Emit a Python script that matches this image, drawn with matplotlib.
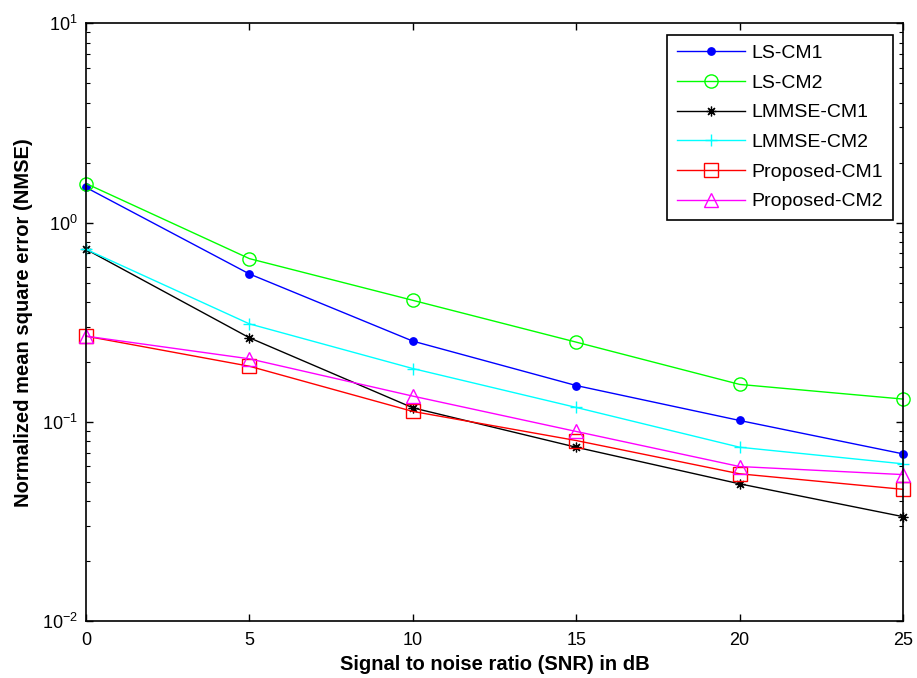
import matplotlib
matplotlib.use("Agg")
import matplotlib.pyplot as plt
from matplotlib.ticker import LogLocator, NullFormatter

plt.rcParams['font.family'] = ['Liberation Sans', 'DejaVu Sans']

snr_db = [0, 5, 10, 15, 20, 25]
ls_cm1 = [1.50, 0.552, 0.254, 0.152, 0.1015, 0.069]
ls_cm2 = [1.57, 0.659, 0.407, 0.251, 0.154, 0.130]
lmmse_cm1 = [0.734, 0.264, 0.1175, 0.0745, 0.0488, 0.0334]
lmmse_cm2 = [0.734, 0.310, 0.185, 0.118, 0.0745, 0.0615]
prop_cm1 = [0.269, 0.190, 0.1127, 0.0805, 0.0548, 0.0458]
prop_cm2 = [0.269, 0.207, 0.1345, 0.0894, 0.0596, 0.0543]

asterisk = (8, 2, 0)
series = [
    ("LS-CM1", ls_cm1, dict(color=(0, 0, 1), marker='o', markersize=5.3, mfc=(0, 0, 1), mec=(0, 0, 1))),
    ("LS-CM2", ls_cm2, dict(color=(0, 1, 0), marker='o', markersize=9.5, mfc='none')),
    ("LMMSE-CM1", lmmse_cm1, dict(color='k', marker=asterisk, markersize=7, mew=0.9)),
    ("LMMSE-CM2", lmmse_cm2, dict(color=(0, 1, 1), marker='+', markersize=9, mew=1)),
    ("Proposed-CM1", prop_cm1, dict(color=(1, 0, 0), marker='s', markersize=9.5, mfc='none')),
    ("Proposed-CM2", prop_cm2, dict(color=(1, 0, 1), marker='^', markersize=10, mfc='none')),
]

fig = plt.figure(figsize=(9.17, 6.78), dpi=100)
ax = fig.add_axes([0.0938, 0.0841, 0.8909, 0.8815])

for name, vals, style in series:
    ax.plot(snr_db, vals, label=name, linewidth=1, clip_on=False, **style)

ax.set_yscale('log')
ax.set_xlim(0, 25)
ax.set_ylim(1e-2, 1e1)
ax.set_xticks(snr_db)
ax.yaxis.set_minor_locator(LogLocator(base=10, subs=range(2, 10)))
ax.yaxis.set_minor_formatter(NullFormatter())
ax.tick_params(which='both', direction='in', top=True, right=True, labelsize=13)
ax.tick_params(which='major', length=5, width=1)
ax.tick_params(which='minor', length=3, width=0.8)
ax.tick_params(axis='x', which='major', pad=8)
ax.tick_params(axis='y', which='major', pad=6)
for sp in ax.spines.values():
    sp.set_linewidth(1.2)

ax.set_xlabel("Signal to noise ratio (SNR) in dB", fontsize=14.5, fontweight='bold', labelpad=4)
ax.set_ylabel("Normalized mean square error (NMSE)", fontsize=14.5, fontweight='bold', labelpad=6)

leg = ax.legend(loc='upper right', bbox_to_anchor=(0.988, 0.981), fontsize=14,
                handlelength=3.5, handletextpad=0.35, borderpad=0.5, labelspacing=0.62,
                fancybox=False, framealpha=1, edgecolor='k', borderaxespad=0)
leg.get_frame().set_linewidth(1.2)

fig.savefig("out.png", dpi=100)
